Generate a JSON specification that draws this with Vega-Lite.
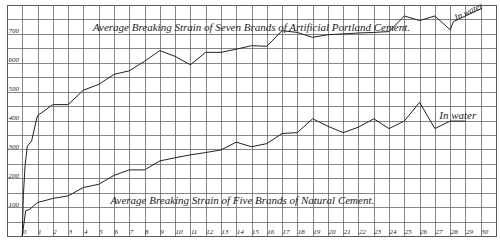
{
  "$schema": "https://vega.github.io/schema/vega-lite/v6.json",
  "width": 489,
  "height": 231,
  "autosize": {"type": "none"},
  "padding": {"left": 7, "top": 5, "right": 4, "bottom": 4},
  "background": "white",
  "config": {"view": {"stroke": "#333", "strokeWidth": 1}},
  "datasets": {
    "curves": [
      {"series": "Portland", "t": 0, "strain": 0},
      {"series": "Portland", "t": 0.07, "strain": 140},
      {"series": "Portland", "t": 0.18, "strain": 243},
      {"series": "Portland", "t": 0.33, "strain": 311},
      {"series": "Portland", "t": 0.61, "strain": 329},
      {"series": "Portland", "t": 0.88, "strain": 392},
      {"series": "Portland", "t": 1, "strain": 417},
      {"series": "Portland", "t": 2, "strain": 455},
      {"series": "Portland", "t": 3, "strain": 455},
      {"series": "Portland", "t": 4, "strain": 505},
      {"series": "Portland", "t": 5, "strain": 525},
      {"series": "Portland", "t": 6, "strain": 560},
      {"series": "Portland", "t": 7, "strain": 572},
      {"series": "Portland", "t": 8, "strain": 605},
      {"series": "Portland", "t": 9, "strain": 642},
      {"series": "Portland", "t": 10, "strain": 622},
      {"series": "Portland", "t": 11, "strain": 593},
      {"series": "Portland", "t": 12, "strain": 636},
      {"series": "Portland", "t": 13, "strain": 636},
      {"series": "Portland", "t": 14, "strain": 647},
      {"series": "Portland", "t": 15, "strain": 659},
      {"series": "Portland", "t": 16, "strain": 657},
      {"series": "Portland", "t": 17, "strain": 711},
      {"series": "Portland", "t": 18, "strain": 705},
      {"series": "Portland", "t": 19, "strain": 688},
      {"series": "Portland", "t": 20, "strain": 697},
      {"series": "Portland", "t": 21, "strain": 700},
      {"series": "Portland", "t": 22, "strain": 703},
      {"series": "Portland", "t": 23, "strain": 705},
      {"series": "Portland", "t": 24, "strain": 708},
      {"series": "Portland", "t": 25, "strain": 762},
      {"series": "Portland", "t": 26, "strain": 746},
      {"series": "Portland", "t": 27, "strain": 762},
      {"series": "Portland", "t": 28, "strain": 714},
      {"series": "Portland", "t": 28.22, "strain": 743},
      {"series": "Portland", "t": 30.1, "strain": 789},
      {"series": "Natural", "t": 0, "strain": 0},
      {"series": "Natural", "t": 0.22, "strain": 87},
      {"series": "Natural", "t": 0.5, "strain": 93},
      {"series": "Natural", "t": 1, "strain": 116},
      {"series": "Natural", "t": 2, "strain": 130},
      {"series": "Natural", "t": 3, "strain": 139},
      {"series": "Natural", "t": 4, "strain": 168},
      {"series": "Natural", "t": 5, "strain": 179},
      {"series": "Natural", "t": 6, "strain": 210},
      {"series": "Natural", "t": 7, "strain": 229},
      {"series": "Natural", "t": 8, "strain": 229},
      {"series": "Natural", "t": 9, "strain": 260},
      {"series": "Natural", "t": 10, "strain": 271},
      {"series": "Natural", "t": 11, "strain": 281},
      {"series": "Natural", "t": 12, "strain": 289},
      {"series": "Natural", "t": 13, "strain": 298},
      {"series": "Natural", "t": 14, "strain": 325},
      {"series": "Natural", "t": 15, "strain": 309},
      {"series": "Natural", "t": 16, "strain": 320},
      {"series": "Natural", "t": 17, "strain": 355},
      {"series": "Natural", "t": 18, "strain": 358},
      {"series": "Natural", "t": 19, "strain": 406},
      {"series": "Natural", "t": 20, "strain": 380},
      {"series": "Natural", "t": 21, "strain": 358},
      {"series": "Natural", "t": 22, "strain": 377},
      {"series": "Natural", "t": 23, "strain": 406},
      {"series": "Natural", "t": 24, "strain": 372},
      {"series": "Natural", "t": 25, "strain": 398},
      {"series": "Natural", "t": 26, "strain": 463},
      {"series": "Natural", "t": 27, "strain": 372},
      {"series": "Natural", "t": 28, "strain": 398},
      {"series": "Natural", "t": 29, "strain": 398}
    ],
    "titles": [
      {"t": 15.0, "strain": 721, "text": "Average Breaking Strain of Seven Brands of Artificial Portland Cement."},
      {"t": 14.4, "strain": 122, "text": "Average Breaking Strain of Five Brands of Natural Cement."},
      {"t": 28.5, "strain": 414, "text": "In water"}
    ],
    "slanted": [
      {"t": 29.2, "strain": 778, "text": "In water"}
    ]
  },
  "encoding": {
    "x": {
      "field": "t", "type": "quantitative",
      "scale": {"domain": [-1, 31], "nice": false, "zero": false},
      "axis": {
        "orient": "bottom",
        "values": [-1,0,1,2,3,4,5,6,7,8,9,10,11,12,13,14,15,16,17,18,19,20,21,22,23,24,25,26,27,28,29,30,31],
        "grid": true, "gridColor": "#666", "gridWidth": 0.8, "gridOpacity": 1,
        "domain": false, "ticks": false, "tickSize": 0,
        "labelExpr": "datum.value < 0 || datum.value > 30 ? '' : datum.label",
        "labelAlign": "left", "labelDx": 3, "labelPadding": -9, "labelBaseline": "top",
        "labelFont": "Liberation Serif", "labelFontStyle": "italic", "labelFontSize": 7,
        "labelColor": "#222", "labelFlush": false, "labelOverlap": false, "labelBound": false,
        "title": null
      }
    },
    "y": {
      "field": "strain", "type": "quantitative",
      "scale": {"domain": [0, 800], "nice": false},
      "axis": {
        "orient": "left",
        "values": [0,50,100,150,200,250,300,350,400,450,500,550,600,650,700,750,800],
        "grid": true, "gridColor": "#666", "gridWidth": 0.8, "gridOpacity": 1,
        "domain": false, "ticks": false, "tickSize": 0,
        "labelExpr": "datum.value % 100 == 0 && datum.value > 0 && datum.value < 800 ? datum.label : ''",
        "labelAlign": "left", "labelBaseline": "bottom", "labelPadding": -1, "labelDy": -1,
        "labelFont": "Liberation Serif", "labelFontStyle": "italic", "labelFontSize": 7,
        "labelColor": "#222", "labelOverlap": false, "labelBound": false, "labelFlush": false,
        "title": null
      }
    }
  },
  "layer": [
    {
      "data": {"name": "curves"},
      "mark": {"type": "line", "color": "#222", "strokeWidth": 1},
      "encoding": {
        "detail": {"field": "series", "type": "nominal"}
      }
    },
    {
      "data": {"name": "titles"},
      "mark": {"type": "text", "font": "Liberation Serif", "fontStyle": "italic", "fontSize": 11, "color": "#222", "align": "center", "baseline": "middle"},
      "encoding": {
        "text": {"field": "text", "type": "nominal"}
      }
    },
    {
      "data": {"name": "slanted"},
      "mark": {"type": "text", "font": "Liberation Serif", "fontStyle": "italic", "fontSize": 9, "color": "#222", "align": "center", "baseline": "middle", "angle": -26},
      "encoding": {
        "text": {"field": "text", "type": "nominal"}
      }
    }
  ]
}
